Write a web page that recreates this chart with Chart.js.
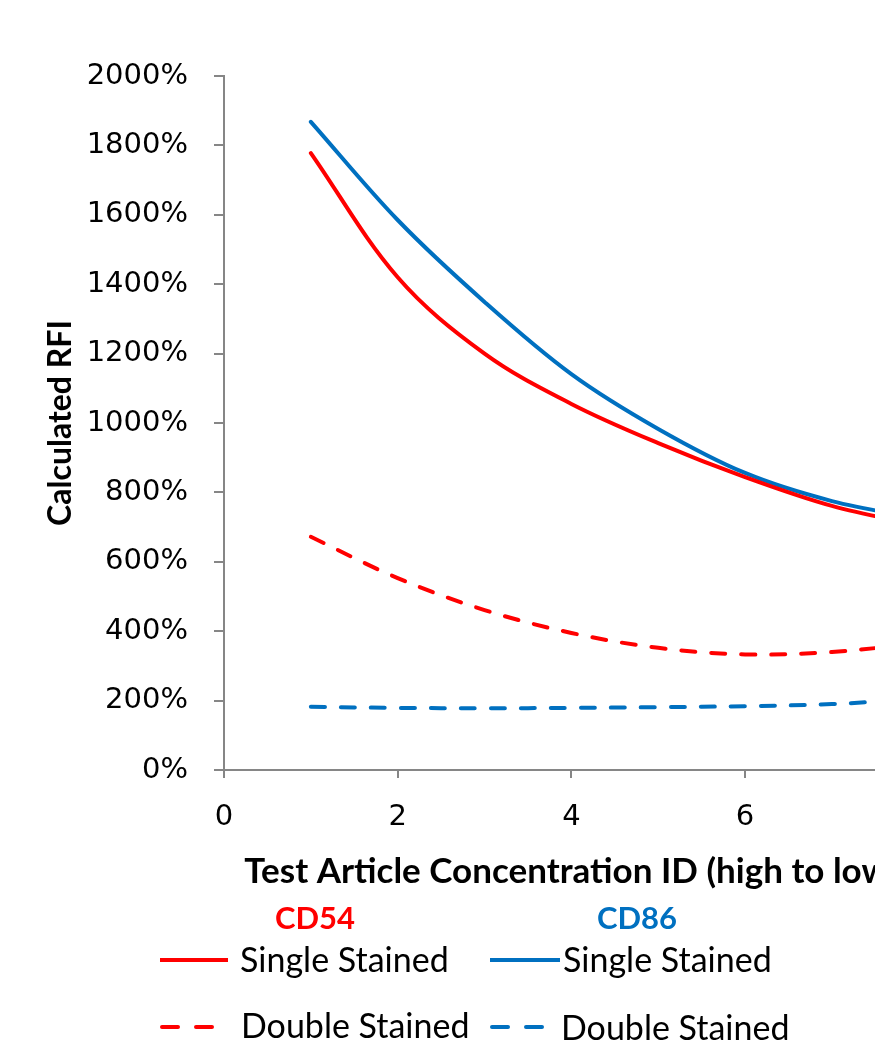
<!DOCTYPE html>
<html>
<head>
<meta charset="utf-8">
<script src="https://cdn.jsdelivr.net/npm/chart.js@4.4.1/dist/chart.umd.min.js"></script>
<style>
  html, body { margin: 0; padding: 0; background: #fff; overflow: hidden; }
  #wrap { position: relative; width: 875px; height: 1041px; overflow: hidden; }
  #chart { position: absolute; left: 0; top: 0; }
  .lg { position: absolute; font-family: Lato, "Open Sans", sans-serif; font-size: 34px; color: #000; white-space: nowrap; line-height: 1; }
  .hd { font-weight: bold; font-size: 31px; }
  svg.key { position: absolute; }
</style>
</head>
<body>
<div id="wrap">
  <canvas id="chart" width="950" height="1041"></canvas>

  <div class="lg hd" style="left:275px; top:902px; color:#ff0000;">CD54</div>
  <div class="lg hd" style="left:597px; top:902px; color:#0070c0;">CD86</div>

  <svg class="key" style="left:156px; top:950px;" width="80" height="20">
    <line x1="4" y1="10" x2="72" y2="10" stroke="#ff0000" stroke-width="4"/>
  </svg>
  <div class="lg" style="left:240px; top:942px;">Single Stained</div>
  <svg class="key" style="left:486px; top:950px;" width="80" height="20">
    <line x1="4" y1="10" x2="74" y2="10" stroke="#0070c0" stroke-width="4"/>
  </svg>
  <div class="lg" style="left:563px; top:942px;">Single Stained</div>

  <svg class="key" style="left:156px; top:1017px;" width="80" height="20">
    <line x1="6" y1="10" x2="60" y2="10" stroke="#ff0000" stroke-width="4" stroke-dasharray="16 18" stroke-linecap="round"/>
  </svg>
  <div class="lg" style="left:241px; top:1008px;">Double Stained</div>
  <svg class="key" style="left:486px; top:1017px;" width="80" height="20">
    <line x1="6" y1="10" x2="60" y2="10" stroke="#0070c0" stroke-width="4" stroke-dasharray="16 18" stroke-linecap="round"/>
  </svg>
  <div class="lg" style="left:561px; top:1010px;">Double Stained</div>
</div>

<script>
// concentration IDs (high to low)
const concIds = [1, 2, 3, 4, 5, 6, 7, 8];

// calculated RFI, in percent
const cd54Single = [1778, 1420, 1200, 1055, 942, 844, 761, 705];
const cd86Single = [1868, 1585, 1349, 1141, 983, 856, 775, 725];
const cd54Double = [672, 553, 461, 395, 352, 333, 340, 365];
const cd86Double = [182, 179, 178, 179, 181, 184, 190, 205];

const yTicks = [0, 200, 400, 600, 800, 1000, 1200, 1400, 1600, 1800, 2000];
const xTicks = [0, 2, 4, 6, 8];

const RED = '#ff0000';
const BLUE = '#0070c0';
const AXIS = '#868686';

function pts(vals) {
  return concIds.map((x, i) => ({ x: x, y: vals[i] }));
}

function series(label, vals, color, dashed) {
  return {
    label: label,
    data: pts(vals),
    borderColor: color,
    backgroundColor: color,
    borderWidth: 4,
    borderDash: dashed ? [14, 16] : [],
    borderCapStyle: 'round',
    pointRadius: 0,
    tension: 0.35,
    fill: false
  };
}

const tickFont = { family: '"DejaVu Sans", sans-serif', size: 29 };
const titleFont = { family: 'Lato, "Open Sans", sans-serif', size: 35, weight: 'bold' };

new Chart(document.getElementById('chart'), {
  type: 'line',
  data: {
    datasets: [
      series('CD54 Single Stained', cd54Single, RED, false),
      series('CD86 Single Stained', cd86Single, BLUE, false),
      series('CD54 Double Stained', cd54Double, RED, true),
      series('CD86 Double Stained', cd86Double, BLUE, true)
    ]
  },
  options: {
    responsive: false,
    animation: false,
    layout: { padding: { left: 0, right: 30, top: 76, bottom: 141 } },
    plugins: {
      legend: { display: false },
      tooltip: { enabled: false }
    },
    scales: {
      x: {
        type: 'linear',
        min: 0,
        max: 8,
        afterBuildTicks: (s) => { s.ticks = xTicks.map(v => ({ value: v })); },
        afterFit: (s) => { s.height = 130; },
        grid: { drawOnChartArea: false, drawTicks: true, tickLength: 8, color: AXIS, lineWidth: 2 },
        border: { color: AXIS, width: 2 },
        ticks: { color: '#000', font: tickFont, padding: 22, maxRotation: 0 },
        title: {
          display: true,
          text: 'Test Article Concentration ID (high to low)',
          color: '#000',
          font: titleFont,
          padding: { top: 0, bottom: 7 }
        }
      },
      y: {
        min: 0,
        max: 2000,
        afterBuildTicks: (s) => { s.ticks = yTicks.map(v => ({ value: v })); },
        afterFit: (s) => { s.width = 224; },
        grid: { drawOnChartArea: false, drawTicks: true, tickLength: 10, color: AXIS, lineWidth: 2 },
        border: { color: AXIS, width: 2 },
        ticks: { color: '#000', font: tickFont, padding: 26, callback: (v) => v + '%' },
        title: {
          display: true,
          text: 'Calculated RFI',
          color: '#000',
          font: { family: 'Lato, "Open Sans", sans-serif', size: 32, weight: 'bold' },
          padding: { top: 41, bottom: 0 }
        }
      }
    }
  }
});
</script>
</body>
</html>
